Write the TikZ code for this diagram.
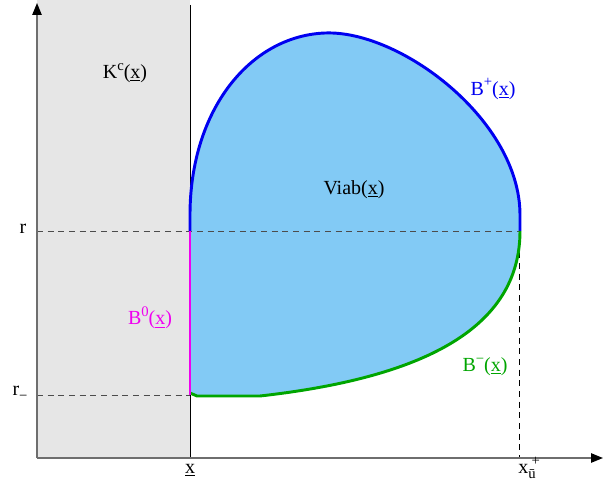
\documentclass[tikz,border=0pt]{standalone}
\usepackage{fontspec}
\setmainfont{Liberation Serif}
\usepackage{tikz}
\usetikzlibrary{arrows.meta}

\definecolor{viabfill}{RGB}{130,202,245}
\definecolor{kcfill}{RGB}{230,230,230}
\definecolor{bplusblue}{RGB}{0,0,240}
\definecolor{bzeromag}{RGB}{240,0,240}
\definecolor{bminusgreen}{RGB}{0,165,0}
\definecolor{axisgray}{RGB}{110,110,110}

\newcommand{\ulx}{(\underline{x})}
\newcommand{\hi}[1]{\raisebox{0.42em}{\fontsize{11}{12}\selectfont #1}}
\newcommand{\lo}[1]{\raisebox{-0.25em}{\fontsize{11}{12}\selectfont #1}}

\tikzset{
  lbl/.style={inner sep=0.75pt, font=\fontsize{15}{18}\selectfont},
  axisline/.style={color=axisgray, line width=1.2, -{Triangle[black,length=9,width=7]}},
  guide/.style={color=black!70, line width=0.75, dash pattern={on 4.5pt off 3.5pt}},
  bound/.style={line width=2.2, line join=round},
}

\begin{document}
\begin{tikzpicture}[x=0.75pt,y=0.75pt,yscale=-1,xscale=1]
\useasboundingbox (0,0) rectangle (604,485);

%Coordinates
\coordinate (O) at (37,458);
\coordinate (ytop) at (37,3);
\coordinate (xend) at (603,458);
\coordinate (xbar) at (190,458);
\coordinate (xbartop) at (190,5);
\coordinate (rl) at (37,231);
\coordinate (rr) at (520,231);
\coordinate (rml) at (37,395);
\coordinate (rmr) at (190,395);
\coordinate (xup) at (519,231);
\coordinate (xud) at (519,458);

%Shape: K^c region
\fill [kcfill] (37,0) rectangle (190,458);
\draw [line width=0.75] (xbartop) -- (xbar);

%Shape: Viab region
\fill [viabfill] (190,231) -- (190,215) .. controls (190,110) and (250,36) .. (325,33) .. controls (400,30) and (520,120) .. (520,215) -- (520,231)
  .. controls (520,330) and (420,378) .. (260,396) -- (197,396) -- (190,393) -- cycle;

%Dashed lines
\draw [guide] (rl) -- (rr);
\draw [guide] (rml) -- (rmr);
\draw [line width=0.75, dash pattern={on 4.5pt off 3.5pt}] (xup) -- (xud);

%Curve Lines: B^+
\draw [bound, color=bplusblue] (190,231) -- (190,215) .. controls (190,110) and (250,36) .. (325,33) .. controls (400,30) and (520,120) .. (520,215) -- (rr);
%Curve Lines: B^-
\draw [bound, color=bminusgreen] (rr) .. controls (520,330) and (420,378) .. (260,396) -- (197,396) -- (190,393);
%Straight Lines: B^0
\draw [bound, color=bzeromag] (190,231) -- (rmr);

%Axes
\draw [axisline] (O) -- (ytop);
\draw [axisline] (O) -- (xend);

% Text Node
\node [lbl] (kc) at (125,73) {K\hi{c}\ulx};
% Text Node
\node [lbl] (viab) at (354,190) {Viab\ulx};
% Text Node
\node [lbl, text=bplusblue] (bplus) at (493,89) {B\hi{+}\ulx};
% Text Node
\node [lbl, text=bzeromag] (bzero) at (150,318) {B\hi{0}\ulx};
% Text Node
\node [lbl, text=bminusgreen] (bminus) at (485,367) {B\hi{−}\ulx};
% Text Node
\node [lbl] (rlab) at (23,229) {r};
% Text Node
\node [lbl] (rminus) at (20,393) {r\lo{−}};
% Text Node
\node [lbl] (xlab) at (190,470) {\underline{x}};
% Text Node
\node [lbl] (xplus) at (527,468) {x\rlap{\hspace{2.5pt}\hi{+}}\lo{ū}};
\end{tikzpicture}
\end{document}
